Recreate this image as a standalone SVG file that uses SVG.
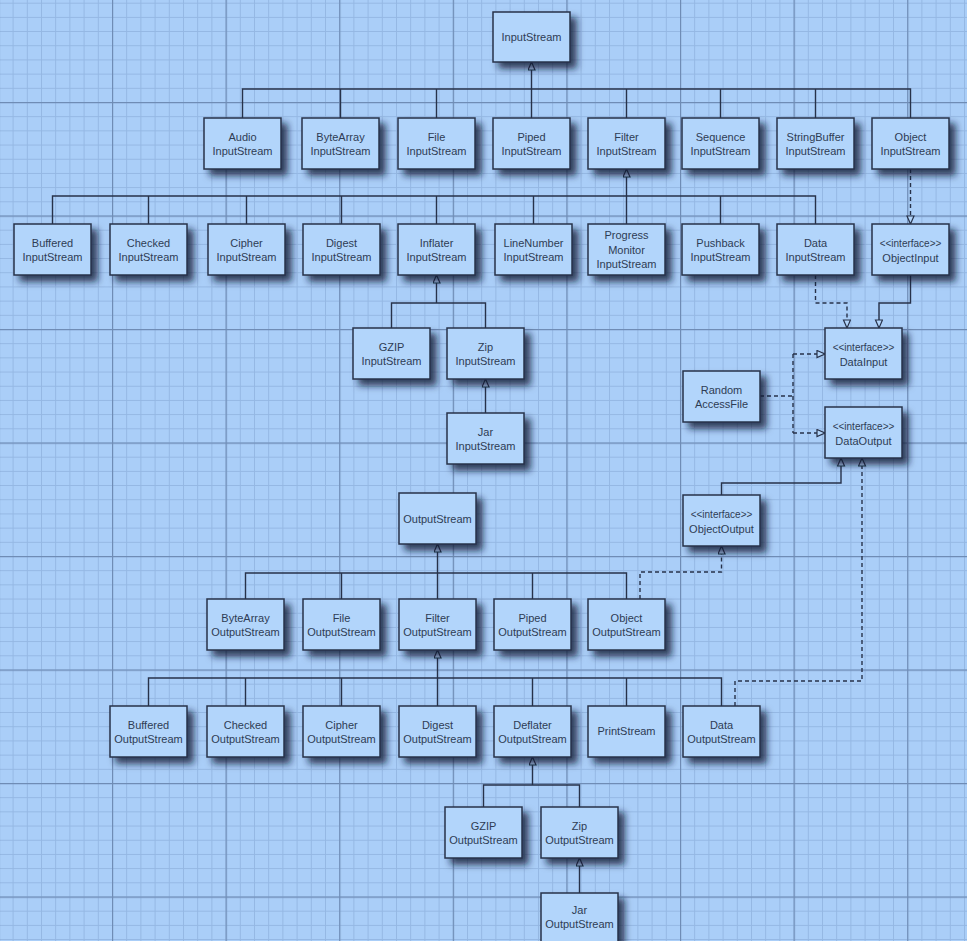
<svg xmlns="http://www.w3.org/2000/svg" width="967" height="941" viewBox="0 0 967 941">
<defs>
<style>
.box{fill:#b2d5fb;stroke:#27324a;stroke-width:1.5;filter:url(#sh)}
.t{font-family:"Liberation Sans",Arial,sans-serif;font-size:11px;fill:#2e3c54;text-anchor:middle}
.s{font-size:10px}
.ln{fill:none;stroke:#27324a;stroke-width:1.4}
.d{stroke-dasharray:4 3}
.a{marker-end:url(#tri)}
</style>
<filter id="sh" x="-25%" y="-25%" width="160%" height="180%">
<feDropShadow dx="6" dy="6" stdDeviation="3.5" flood-color="#0f1d36" flood-opacity="0.8"/>
</filter>
<marker id="tri" markerUnits="userSpaceOnUse" markerWidth="10" markerHeight="10" viewBox="0 0 10 10" refX="9" refY="4" orient="auto">
<path d="M1,0.5 L9,4 L1,7.5 Z" fill="#b2d5fb" stroke="#27324a" stroke-width="1.2"/>
</marker>
<pattern id="minor" patternUnits="userSpaceOnUse" x="-1.6" y="2.7" width="14.2" height="14.1875">
<path d="M0.5,0 V14.1875 M0,0.5 H14.2" stroke="#94b7e3" stroke-width="1" fill="none"/>
</pattern>
<pattern id="major" patternUnits="userSpaceOnUse" x="-1.6" y="-11.5" width="113.6" height="113.5">
<path d="M0.6,0 V113.5 M0,0.6 H113.6" stroke="#6f8cb5" stroke-width="1.2" fill="none"/>
</pattern>
</defs>
<rect width="967" height="941" fill="#aacef8"/>
<rect width="967" height="941" fill="url(#minor)"/>
<rect width="967" height="941" fill="url(#major)"/>

<g id="connectors">
<path class="ln" d="M242.5,118 V89 H910.5 V118 M340.5,89 V118 M436.5,89 V118 M626.5,89 V118 M720.5,89 V118 M815.5,89 V118"/>
<path class="ln a" d="M531.5,118 V62"/>
<path class="ln" d="M52.5,224 V196 H815.5 V224 M148.5,196 V224 M246.5,196 V224 M341.5,196 V224 M436.5,196 V224 M533.5,196 V224 M720.5,196 V224"/>
<path class="ln a" d="M626.5,224 V169"/>
<path class="ln d a" d="M910.5,169 V224"/>
<path class="ln" d="M391.5,328 V303 H485.5 V328"/>
<path class="ln a" d="M436.5,303 V275"/>
<path class="ln a" d="M485.5,413 V379"/>
<path class="ln d a" d="M815.5,275 V303 H847 V328"/>
<path class="ln a" d="M910.5,275 V303 H879 V328"/>
<path class="ln d" d="M760,396 H793 M793,354 V433"/>
<path class="ln d a" d="M793,354 H825"/>
<path class="ln d a" d="M793,433 H825"/>
<path class="ln a" d="M721.5,495 V483 H841 V458"/>
<path class="ln d a" d="M735,706 V681 H862 V458"/>
<path class="ln" d="M245.5,599 V573 H626.5 V599 M341.5,573 V599 M532.5,573 V599"/>
<path class="ln a" d="M437.5,599 V544"/>
<path class="ln d a" d="M640,599 V572 H721.5 V546"/>
<path class="ln" d="M148.5,706 V678 H721.5 V706 M245.5,678 V706 M341.5,678 V706 M532.5,678 V706 M626.5,678 V706"/>
<path class="ln a" d="M437.5,706 V650"/>
<path class="ln" d="M483.5,807 V785 H579.5 V807"/>
<path class="ln a" d="M532.5,785 V757"/>
<path class="ln a" d="M579.5,893 V858"/>
</g>

<g id="InputStream"><rect class="box" x="493" y="12" width="77" height="50"/><text class="t" x="531.5" y="41">InputStream</text></g>

<g id="AudioInputStream"><rect class="box" x="204" y="118" width="77" height="51"/><text class="t" x="242.5" y="140.5">Audio</text><text class="t" x="242.5" y="154.5">InputStream</text></g>
<g id="ByteArrayInputStream"><rect class="box" x="302" y="118" width="77" height="51"/><text class="t" x="340.5" y="140.5">ByteArray</text><text class="t" x="340.5" y="154.5">InputStream</text></g>
<g id="FileInputStream"><rect class="box" x="398" y="118" width="77" height="51"/><text class="t" x="436.5" y="140.5">File</text><text class="t" x="436.5" y="154.5">InputStream</text></g>
<g id="PipedInputStream"><rect class="box" x="493" y="118" width="77" height="51"/><text class="t" x="531.5" y="140.5">Piped</text><text class="t" x="531.5" y="154.5">InputStream</text></g>
<g id="FilterInputStream"><rect class="box" x="588" y="118" width="77" height="51"/><text class="t" x="626.5" y="140.5">Filter</text><text class="t" x="626.5" y="154.5">InputStream</text></g>
<g id="SequenceInputStream"><rect class="box" x="682" y="118" width="77" height="51"/><text class="t" x="720.5" y="140.5">Sequence</text><text class="t" x="720.5" y="154.5">InputStream</text></g>
<g id="StringBufferInputStream"><rect class="box" x="777" y="118" width="77" height="51"/><text class="t" x="815.5" y="140.5">StringBuffer</text><text class="t" x="815.5" y="154.5">InputStream</text></g>
<g id="ObjectInputStream"><rect class="box" x="872" y="118" width="77" height="51"/><text class="t" x="910.5" y="140.5">Object</text><text class="t" x="910.5" y="154.5">InputStream</text></g>

<g id="BufferedInputStream"><rect class="box" x="14" y="224" width="77" height="51"/><text class="t" x="52.5" y="246.5">Buffered</text><text class="t" x="52.5" y="260.5">InputStream</text></g>
<g id="CheckedInputStream"><rect class="box" x="110" y="224" width="77" height="51"/><text class="t" x="148.5" y="246.5">Checked</text><text class="t" x="148.5" y="260.5">InputStream</text></g>
<g id="CipherInputStream"><rect class="box" x="208" y="224" width="77" height="51"/><text class="t" x="246.5" y="246.5">Cipher</text><text class="t" x="246.5" y="260.5">InputStream</text></g>
<g id="DigestInputStream"><rect class="box" x="303" y="224" width="77" height="51"/><text class="t" x="341.5" y="246.5">Digest</text><text class="t" x="341.5" y="260.5">InputStream</text></g>
<g id="InflaterInputStream"><rect class="box" x="398" y="224" width="77" height="51"/><text class="t" x="436.5" y="246.5">Inflater</text><text class="t" x="436.5" y="260.5">InputStream</text></g>
<g id="LineNumberInputStream"><rect class="box" x="495" y="224" width="77" height="51"/><text class="t" x="533.5" y="246.5">LineNumber</text><text class="t" x="533.5" y="260.5">InputStream</text></g>
<g id="ProgressMonitorInputStream"><rect class="box" x="588" y="224" width="77" height="51"/><text class="t" x="626.5" y="239">Progress</text><text class="t" x="626.5" y="253.5">Monitor</text><text class="t" x="626.5" y="268">InputStream</text></g>
<g id="PushbackInputStream"><rect class="box" x="682" y="224" width="77" height="51"/><text class="t" x="720.5" y="246.5">Pushback</text><text class="t" x="720.5" y="260.5">InputStream</text></g>
<g id="DataInputStream"><rect class="box" x="777" y="224" width="77" height="51"/><text class="t" x="815.5" y="246.5">Data</text><text class="t" x="815.5" y="260.5">InputStream</text></g>
<g id="ObjectInput"><rect class="box" x="872" y="224" width="77" height="51"/><text class="t s" x="910.5" y="246.5">&lt;&lt;interface&gt;&gt;</text><text class="t" x="910.5" y="261.5">ObjectInput</text></g>

<g id="GZIPInputStream"><rect class="box" x="353" y="328" width="77" height="51"/><text class="t" x="391.5" y="350.5">GZIP</text><text class="t" x="391.5" y="364.5">InputStream</text></g>
<g id="ZipInputStream"><rect class="box" x="447" y="328" width="77" height="51"/><text class="t" x="485.5" y="350.5">Zip</text><text class="t" x="485.5" y="364.5">InputStream</text></g>
<g id="JarInputStream"><rect class="box" x="447" y="413" width="77" height="51"/><text class="t" x="485.5" y="435.5">Jar</text><text class="t" x="485.5" y="449.5">InputStream</text></g>

<g id="DataInput"><rect class="box" x="825" y="328" width="77" height="51"/><text class="t s" x="863.5" y="351">&lt;&lt;interface&gt;&gt;</text><text class="t" x="863.5" y="366">DataInput</text></g>
<g id="RandomAccessFile"><rect class="box" x="683" y="371" width="77" height="51"/><text class="t" x="721.5" y="393.5">Random</text><text class="t" x="721.5" y="407.5">AccessFile</text></g>
<g id="DataOutput"><rect class="box" x="825" y="407" width="77" height="51"/><text class="t s" x="863.5" y="430">&lt;&lt;interface&gt;&gt;</text><text class="t" x="863.5" y="445">DataOutput</text></g>
<g id="ObjectOutput"><rect class="box" x="683" y="495" width="77" height="51"/><text class="t s" x="721.5" y="518">&lt;&lt;interface&gt;&gt;</text><text class="t" x="721.5" y="533">ObjectOutput</text></g>

<g id="OutputStream"><rect class="box" x="399" y="493" width="77" height="51"/><text class="t" x="437.5" y="522.5">OutputStream</text></g>

<g id="ByteArrayOutputStream"><rect class="box" x="207" y="599" width="77" height="51"/><text class="t" x="245.5" y="621.5">ByteArray</text><text class="t" x="245.5" y="635.5">OutputStream</text></g>
<g id="FileOutputStream"><rect class="box" x="303" y="599" width="77" height="51"/><text class="t" x="341.5" y="621.5">File</text><text class="t" x="341.5" y="635.5">OutputStream</text></g>
<g id="FilterOutputStream"><rect class="box" x="399" y="599" width="77" height="51"/><text class="t" x="437.5" y="621.5">Filter</text><text class="t" x="437.5" y="635.5">OutputStream</text></g>
<g id="PipedOutputStream"><rect class="box" x="494" y="599" width="77" height="51"/><text class="t" x="532.5" y="621.5">Piped</text><text class="t" x="532.5" y="635.5">OutputStream</text></g>
<g id="ObjectOutputStream"><rect class="box" x="588" y="599" width="77" height="51"/><text class="t" x="626.5" y="621.5">Object</text><text class="t" x="626.5" y="635.5">OutputStream</text></g>

<g id="BufferedOutputStream"><rect class="box" x="110" y="706" width="77" height="51"/><text class="t" x="148.5" y="728.5">Buffered</text><text class="t" x="148.5" y="742.5">OutputStream</text></g>
<g id="CheckedOutputStream"><rect class="box" x="207" y="706" width="77" height="51"/><text class="t" x="245.5" y="728.5">Checked</text><text class="t" x="245.5" y="742.5">OutputStream</text></g>
<g id="CipherOutputStream"><rect class="box" x="303" y="706" width="77" height="51"/><text class="t" x="341.5" y="728.5">Cipher</text><text class="t" x="341.5" y="742.5">OutputStream</text></g>
<g id="DigestOutputStream"><rect class="box" x="399" y="706" width="77" height="51"/><text class="t" x="437.5" y="728.5">Digest</text><text class="t" x="437.5" y="742.5">OutputStream</text></g>
<g id="DeflaterOutputStream"><rect class="box" x="494" y="706" width="77" height="51"/><text class="t" x="532.5" y="728.5">Deflater</text><text class="t" x="532.5" y="742.5">OutputStream</text></g>
<g id="PrintStream"><rect class="box" x="588" y="706" width="77" height="51"/><text class="t" x="626.5" y="735">PrintStream</text></g>
<g id="DataOutputStream"><rect class="box" x="683" y="706" width="77" height="51"/><text class="t" x="721.5" y="728.5">Data</text><text class="t" x="721.5" y="742.5">OutputStream</text></g>

<g id="GZIPOutputStream"><rect class="box" x="445" y="807" width="77" height="51"/><text class="t" x="483.5" y="829.5">GZIP</text><text class="t" x="483.5" y="843.5">OutputStream</text></g>
<g id="ZipOutputStream"><rect class="box" x="541" y="807" width="77" height="51"/><text class="t" x="579.5" y="829.5">Zip</text><text class="t" x="579.5" y="843.5">OutputStream</text></g>
<g id="JarOutputStream"><rect class="box" x="541" y="893" width="77" height="51"/><text class="t" x="579.5" y="913.5">Jar</text><text class="t" x="579.5" y="927.5">OutputStream</text></g>
</svg>
